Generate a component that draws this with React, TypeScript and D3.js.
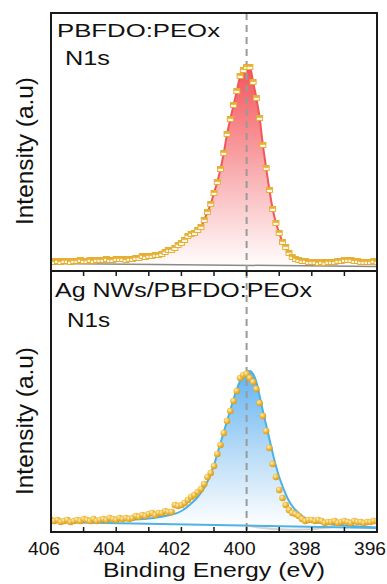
import React from "react";
import * as d3 from "d3";

const energies = [
  406.0, 405.9, 405.8, 405.7, 405.6, 405.5, 405.4, 405.3, 405.2, 405.1,
  405.0, 404.9, 404.8, 404.7, 404.6, 404.5, 404.4, 404.3, 404.2, 404.1,
  404.0, 403.9, 403.8, 403.7, 403.6, 403.5, 403.4, 403.3, 403.2, 403.1,
  403.0, 402.9, 402.8, 402.7, 402.6, 402.5, 402.4, 402.3, 402.2, 402.1,
  402.0, 401.9, 401.8, 401.7, 401.6, 401.5, 401.4, 401.3, 401.2, 401.1,
  401.0, 400.9, 400.8, 400.7, 400.6, 400.5, 400.4, 400.3, 400.2, 400.1,
  400.0, 399.9, 399.8, 399.7, 399.6, 399.5, 399.4, 399.3, 399.2, 399.1,
  399.0, 398.9, 398.8, 398.7, 398.6, 398.5, 398.4, 398.3, 398.2, 398.1,
  398.0, 397.9, 397.8, 397.7, 397.6, 397.5, 397.4, 397.3, 397.2, 397.1,
  397.0, 396.9, 396.8, 396.7, 396.6, 396.5, 396.4, 396.3, 396.2, 396.1,
  396.0,
];

// PBFDO:PEOx N1s (top panel), arbitrary units
const topIntensity = [
  7, 6, 7, 6, 7, 7, 6, 7, 7, 8,
  7, 7, 8, 7, 8, 8, 8, 9, 8, 8,
  9, 9, 9, 8, 9, 9, 10, 10, 12, 11,
  12, 12, 13, 13, 14, 16, 18, 18, 20, 23,
  25, 28, 32, 34, 35, 38, 41, 48, 56, 64,
  75, 86, 99, 115, 134, 149, 163, 177, 192, 198,
  201, 201, 186, 170, 150, 123, 100, 78, 59, 45,
  35, 26, 21, 15, 11, 9, 8, 7, 7, 6,
  6, 6, 5, 6, 5, 6, 6, 6, 7, 7,
  8, 8, 8, 7, 7, 6, 6, 6, 6, 7,
  6,
];

// Ag NWs/PBFDO:PEOx N1s (bottom panel), arbitrary units
const bottomIntensity = [
  7, 6, 7, 5, 6, 7, 5, 6, 7, 6,
  8, 7, 6, 8, 6, 7, 8, 7, 9, 8,
  7, 9, 8, 9, 8, 9, 11, 10, 12, 11,
  13, 14, 12, 14, 14, 16, 15, 15, 22, 21,
  22, 24, 27, 30, 32, 35, 38, 43, 50, 54,
  61, 73, 82, 94, 106, 116, 126, 136, 149, 152,
  153, 149, 145, 138, 124, 111, 96, 79, 63, 50,
  37, 29, 22, 17, 14, 13, 11, 8, 6, 7,
  7, 6, 7, 6, 4, 5, 5, 6, 4, 5,
  6, 5, 4, 6, 5, 5, 4, 5, 5, 6,
  6,
];

// Fitted envelope of the bottom panel
const fitEnergies = [
  406, 405, 404, 403.5, 403, 402.5, 402, 401.75, 401.5, 401.25,
  401, 400.9, 400.8, 400.7, 400.6, 400.5, 400.4, 400.3, 400.2, 400.1,
  400, 399.9, 399.8, 399.7, 399.6, 399.5, 399.4, 399.3, 399.2, 399.1,
  399, 398.9, 398.8, 398.7, 398.6, 398.5, 398.25, 398, 397.5, 397,
  396.5, 396,
];
const fitIntensity = [
  5.5, 6, 6.5, 7.5, 8.5, 11, 16, 22, 30, 42,
  62, 73, 84, 95, 106, 117, 128, 138, 146, 152,
  155, 156, 153, 145, 131, 116, 102, 88, 74, 61,
  50, 41, 33, 26, 21, 17, 10, 6, 3, 1.5,
  0.5, -0.5,
];

// Linear backgrounds
const baselineEnergies = [406, 396];
const topBaseline = [4.5, 1.5];
const bottomBaseline = [5, -1];

const majorTicks = [406, 404, 402, 400, 398, 396];
const minorTicks = [405, 403, 401, 399, 397];
const tickLabels = ["406", "404", "402", "400", "398", "396"];
const refLine = 400;

const FONT = "'Liberation Sans', Arial, Helvetica, sans-serif";

export default function App() {
  const L = 51, R = 377, T = 13, MID = 271, B = 532;
  const x = d3.scaleLinear().domain([406, 396]).range([L, R]);
  const yTop = d3.scaleLinear().domain([0, 200]).range([268, 68]);
  const yBot = d3.scaleLinear().domain([0, 200]).range([527, 327]);

  const topBase = d3.scaleLinear().domain(baselineEnergies).range(topBaseline);
  const botBase = d3.scaleLinear().domain(baselineEnergies).range(bottomBaseline);

  const topPts = energies.map((e, i) => ({ e, v: topIntensity[i] }));
  const botPts = energies.map((e, i) => ({ e, v: bottomIntensity[i] }));
  const fitPts = fitEnergies.map((e, i) => ({ e, v: fitIntensity[i] }));

  const topArea = d3
    .area<{ e: number; v: number }>()
    .x((d) => x(d.e))
    .y0((d) => yTop(topBase(d.e)))
    .y1((d) => yTop(d.v))
    .curve(d3.curveMonotoneX);
  const topLine = d3
    .line<{ e: number; v: number }>()
    .x((d) => x(d.e))
    .y((d) => yTop(d.v))
    .curve(d3.curveMonotoneX);

  const botArea = d3
    .area<{ e: number; v: number }>()
    .x((d) => x(d.e))
    .y0((d) => yBot(botBase(d.e)))
    .y1((d) => yBot(d.v))
    .curve(d3.curveMonotoneX);
  const botLine = d3
    .line<{ e: number; v: number }>()
    .x((d) => x(d.e))
    .y((d) => yBot(d.v))
    .curve(d3.curveMonotoneX);

  const allTicks = [...majorTicks, ...minorTicks];

  return (
    <svg
      width={387}
      height={584}
      style={{ position: "absolute", left: 0, top: 0, background: "#fff" }}
      fontFamily={FONT}
    >
      <defs>
        <linearGradient id="redGrad" gradientUnits="userSpaceOnUse" x1="0" y1={yTop(200)} x2="0" y2={yTop(0)}>
          <stop offset="0" stopColor="#F4555A" />
          <stop offset="0.45" stopColor="#F8A2A5" />
          <stop offset="1" stopColor="#FFFFFF" />
        </linearGradient>
        <linearGradient id="blueGrad" gradientUnits="userSpaceOnUse" x1="0" y1={yBot(155)} x2="0" y2={yBot(0)}>
          <stop offset="0" stopColor="#63B4F2" />
          <stop offset="0.5" stopColor="#B5DAF7" />
          <stop offset="1" stopColor="#FFFFFF" />
        </linearGradient>
        <radialGradient id="ballGrad" cx="0.38" cy="0.35" r="0.7">
          <stop offset="0" stopColor="#FFF2BE" />
          <stop offset="0.45" stopColor="#F0BE45" />
          <stop offset="1" stopColor="#D49716" />
        </radialGradient>
        <clipPath id="clipTop">
          <rect x={L} y={T} width={R - L} height={MID - T} />
        </clipPath>
        <clipPath id="clipBot">
          <rect x={L} y={MID} width={R - L} height={B - MID} />
        </clipPath>
      </defs>

      {/* Top panel */}
      <g clipPath="url(#clipTop)">
        <path d={topArea(topPts) || ""} fill="url(#redGrad)" />
        <line
          x1={x(baselineEnergies[0])}
          x2={x(baselineEnergies[1])}
          y1={yTop(topBaseline[0])}
          y2={yTop(topBaseline[1])}
          stroke="#8a8a8a"
          strokeWidth={1.5}
        />
        <path d={topLine(topPts) || ""} fill="none" stroke="#F0585C" strokeWidth={2} />
        <line x1={x(refLine)} x2={x(refLine)} y1={T} y2={MID} stroke="#9a9a9a" strokeWidth={2} strokeDasharray="7,5" />
        {topPts.map((d, i) => (
          <g key={i}>
            <rect x={x(d.e) - 3} y={yTop(d.v) - 2.5} width={6} height={5} fill="#FFF8E6" stroke="#E3AA2A" strokeWidth={0.9} />
            <rect x={x(d.e) - 3} y={yTop(d.v) - 2.5} width={6} height={2.3} fill="#E8B033" />
          </g>
        ))}
      </g>

      {/* Bottom panel */}
      <g clipPath="url(#clipBot)">
        <path d={botArea(fitPts) || ""} fill="url(#blueGrad)" />
        <path
          d={`M${x(400)},${yBot(botBase(400))} Q${x(398.8)},${yBot(-6)} ${x(397.4)},${yBot(botBase(397.4))}`}
          fill="none"
          stroke="#c8c8c8"
          strokeWidth={2}
          opacity={0.8}
        />
        <line
          x1={x(baselineEnergies[0])}
          x2={x(baselineEnergies[1])}
          y1={yBot(bottomBaseline[0])}
          y2={yBot(bottomBaseline[1])}
          stroke="#4DB3E6"
          strokeWidth={2}
        />
        <path d={botLine(fitPts) || ""} fill="none" stroke="#4AB1E6" strokeWidth={2} />
        <line x1={x(refLine)} x2={x(refLine)} y1={MID} y2={B} stroke="#9a9a9a" strokeWidth={2} strokeDasharray="7,5" />
        {botPts.map((d, i) => (
          <circle key={i} cx={x(d.e)} cy={yBot(d.v)} r={3.3} fill="url(#ballGrad)" />
        ))}
      </g>

      {/* Frames */}
      <rect x={L} y={T} width={R - L} height={B - T} fill="none" stroke="#1a1a1a" strokeWidth={2} />
      <line x1={L} x2={R} y1={MID} y2={MID} stroke="#1a1a1a" strokeWidth={2} />

      {/* Ticks */}
      {allTicks.map((t) => (
        <g key={t}>
          <line x1={x(t)} x2={x(t)} y1={B} y2={B - 5} stroke="#1a1a1a" strokeWidth={1.5} />
          <line x1={x(t)} x2={x(t)} y1={MID} y2={MID + 5} stroke="#1a1a1a" strokeWidth={1.5} />
        </g>
      ))}
      {majorTicks.map((t, i) => (
        <text
          key={t}
          x={x(t) - 7}
          y={555}
          fontSize={18}
          textAnchor="middle"
          textLength={32}
          lengthAdjust="spacingAndGlyphs"
          fill="#111"
        >
          {tickLabels[i]}
        </text>
      ))}

      {/* Axis titles */}
      <text x={214} y={577} fontSize={20} textAnchor="middle" textLength={222} lengthAdjust="spacingAndGlyphs" fill="#111">
        Binding Energy (eV)
      </text>
      <text transform="translate(33,151) rotate(-90)" fontSize={24} textAnchor="middle" textLength={148} lengthAdjust="spacingAndGlyphs" fill="#111">
        Intensity (a.u)
      </text>
      <text transform="translate(33,421) rotate(-90)" fontSize={24} textAnchor="middle" textLength={148} lengthAdjust="spacingAndGlyphs" fill="#111">
        Intensity (a.u)
      </text>

      {/* Panel labels */}
      <text x={57} y={37} fontSize={19} textLength={163} lengthAdjust="spacingAndGlyphs" fill="#111">
        PBFDO:PEOx
      </text>
      <text x={65} y={65} fontSize={20} textLength={45} lengthAdjust="spacingAndGlyphs" fill="#111">
        N1s
      </text>
      <text x={55} y={297} fontSize={20} textLength={257} lengthAdjust="spacingAndGlyphs" fill="#111">
        Ag NWs/PBFDO:PEOx
      </text>
      <text x={67} y={327} fontSize={20} textLength={43} lengthAdjust="spacingAndGlyphs" fill="#111">
        N1s
      </text>
    </svg>
  );
}
